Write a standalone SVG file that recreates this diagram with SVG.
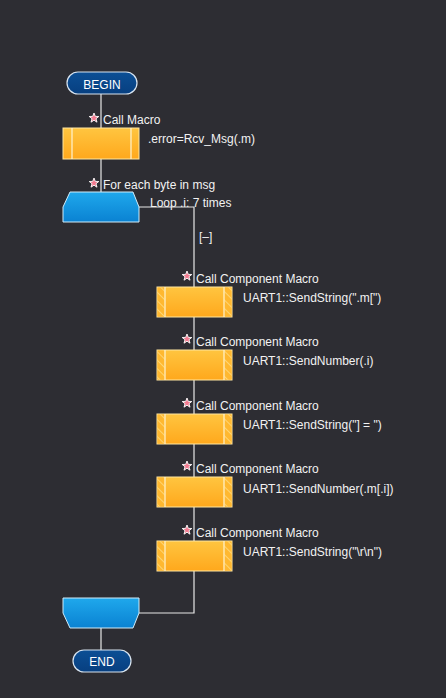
<svg xmlns="http://www.w3.org/2000/svg" width="446" height="698" viewBox="0 0 446 698">
<defs>
<linearGradient id="og" x1="0" y1="0" x2="0" y2="1"><stop offset="0" stop-color="#ffc540"/><stop offset="1" stop-color="#ffa81c"/></linearGradient>
<linearGradient id="bg" x1="0" y1="0" x2="0" y2="1"><stop offset="0" stop-color="#1fa8ec"/><stop offset="1" stop-color="#0a82d2"/></linearGradient>
<linearGradient id="tg" x1="0" y1="0" x2="0" y2="1"><stop offset="0" stop-color="#0c4f95"/><stop offset="1" stop-color="#073f80"/></linearGradient>
<pattern id="hatch" width="6" height="6" patternUnits="userSpaceOnUse" patternTransform="rotate(-45)"><rect width="6" height="6" fill="#ffb830"/><line x1="0" y1="0" x2="0" y2="6" stroke="#ffe08a" stroke-width="1.5"/></pattern>
<symbol id="star" viewBox="-6 -6 12 12" overflow="visible"><polygon points="0,-5 1.3,-1.6 4.8,-1.5 2,0.7 3,4.2 0,2.2 -3,4.2 -2,0.7 -4.8,-1.5 -1.3,-1.6" fill="#f27a90" stroke="#ffffff" stroke-width="0.9"/></symbol>
</defs>
<style>
.t{font-family:"Liberation Sans",Arial,sans-serif;font-size:12px;fill:#f2f2f2}
.tt{font-family:"Liberation Sans",Arial,sans-serif;font-size:12px;fill:#ffffff;text-anchor:middle}
.ln{stroke:#e8e8e8;stroke-width:1.2;fill:none}
.term{fill:url(#tg);stroke:#d8e4f0;stroke-width:1.2}
.box{fill:url(#og);stroke:#ffe6a0;stroke-width:1}
.loop{fill:url(#bg);stroke:#d0ecfa;stroke-width:1}
.inner{stroke:#fff3d0;stroke-width:1.2}
</style>
<rect width="446" height="698" fill="#2d2d33"/>
<g id="connectors">
<line class="ln" x1="101" y1="94" x2="101" y2="128"/>
<line class="ln" x1="101" y1="159" x2="101" y2="192"/>
<polyline class="ln" points="139,207 194,207 194,613 139,613"/>
<line class="ln" x1="101" y1="628" x2="101" y2="650"/>
</g>
<g id="begin">
<rect class="term" x="67" y="72" width="70" height="22" rx="11"/>
<text class="tt" x="102" y="88.5">BEGIN</text>
</g>
<g id="callmacro">
<rect class="box" x="63" y="128" width="76" height="31"/>
<line class="inner" x1="72" y1="128" x2="72" y2="159"/>
<line class="inner" x1="131" y1="128" x2="131" y2="159"/>
<use href="#star" x="88" y="112" width="12" height="12"/>
<text class="t" x="103" y="124">Call Macro</text>
<text class="t" x="148" y="143">.error=Rcv_Msg(.m)</text>
</g>
<g id="loop">
<polygon class="loop" points="70,192 133,192 139,207 139,222 63,222 63,207"/>
<use href="#star" x="88" y="177" width="12" height="12"/>
<text class="t" x="103" y="189">For each byte in msg</text>
<text class="t" x="150" y="207">Loop .i: 7 times</text>
<text class="t" x="199" y="241">[–]</text>
</g>
<g id="c1">
<rect class="box" x="157" y="287" width="75" height="30"/>
<rect x="157.5" y="287.5" width="7" height="29" fill="url(#hatch)"/>
<rect x="224.5" y="287.5" width="7" height="29" fill="url(#hatch)"/>
<line class="inner" x1="165" y1="287" x2="165" y2="317"/><line class="inner" x1="224" y1="287" x2="224" y2="317"/>
<use href="#star" x="181" y="270" width="12" height="12"/>
<text class="t" x="196" y="283">Call Component Macro</text>
<text class="t" x="243" y="302">UART1::SendString(".m[")</text>
</g>
<g id="c2">
<rect class="box" x="157" y="350" width="75" height="30"/>
<rect x="157.5" y="350.5" width="7" height="29" fill="url(#hatch)"/>
<rect x="224.5" y="350.5" width="7" height="29" fill="url(#hatch)"/>
<line class="inner" x1="165" y1="350" x2="165" y2="380"/><line class="inner" x1="224" y1="350" x2="224" y2="380"/>
<use href="#star" x="181" y="333" width="12" height="12"/>
<text class="t" x="196" y="346">Call Component Macro</text>
<text class="t" x="243" y="365">UART1::SendNumber(.i)</text>
</g>
<g id="c3">
<rect class="box" x="157" y="414" width="75" height="30"/>
<rect x="157.5" y="414.5" width="7" height="29" fill="url(#hatch)"/>
<rect x="224.5" y="414.5" width="7" height="29" fill="url(#hatch)"/>
<line class="inner" x1="165" y1="414" x2="165" y2="444"/><line class="inner" x1="224" y1="414" x2="224" y2="444"/>
<use href="#star" x="181" y="397" width="12" height="12"/>
<text class="t" x="196" y="410">Call Component Macro</text>
<text class="t" x="243" y="429">UART1::SendString("] = ")</text>
</g>
<g id="c4">
<rect class="box" x="157" y="477" width="75" height="30"/>
<rect x="157.5" y="477.5" width="7" height="29" fill="url(#hatch)"/>
<rect x="224.5" y="477.5" width="7" height="29" fill="url(#hatch)"/>
<line class="inner" x1="165" y1="477" x2="165" y2="507"/><line class="inner" x1="224" y1="477" x2="224" y2="507"/>
<use href="#star" x="181" y="460" width="12" height="12"/>
<text class="t" x="196" y="473">Call Component Macro</text>
<text class="t" x="243" y="493">UART1::SendNumber(.m[.i])</text>
</g>
<g id="c5">
<rect class="box" x="157" y="541" width="75" height="30"/>
<rect x="157.5" y="541.5" width="7" height="29" fill="url(#hatch)"/>
<rect x="224.5" y="541.5" width="7" height="29" fill="url(#hatch)"/>
<line class="inner" x1="165" y1="541" x2="165" y2="571"/><line class="inner" x1="224" y1="541" x2="224" y2="571"/>
<use href="#star" x="181" y="524" width="12" height="12"/>
<text class="t" x="196" y="537">Call Component Macro</text>
<text class="t" x="243" y="556">UART1::SendString("\r\n")</text>
</g>
<g id="loopend">
<polygon class="loop" points="63,598 139,598 139,613 133,628 70,628 63,613"/>
</g>
<g id="end">
<rect class="term" x="73" y="650" width="58" height="22" rx="11"/>
<text class="tt" x="102" y="666">END</text>
</g>
</svg>
